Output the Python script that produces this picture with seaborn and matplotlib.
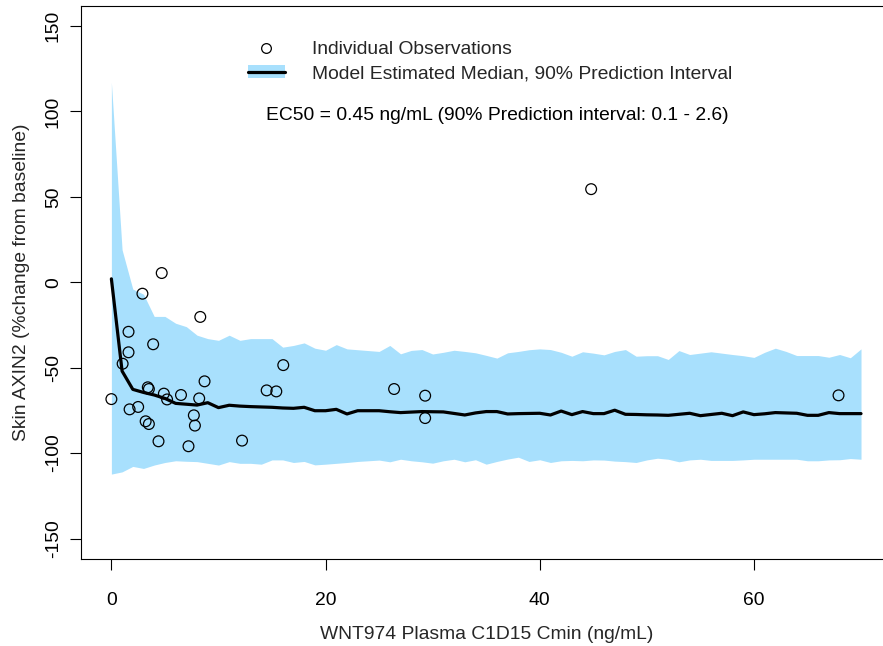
import numpy as np
import pandas as pd
import matplotlib
matplotlib.use("Agg")
import matplotlib.pyplot as plt
from matplotlib.lines import Line2D
from matplotlib.patches import Patch
import seaborn as sns

# ---- data ----
obs_conc = [0.0, 1.05, 1.6, 1.6, 1.7, 2.5, 2.9, 3.2, 3.4, 3.5, 3.5, 3.9, 4.4, 4.7,
            4.9, 5.2, 6.5, 7.2, 7.7, 7.8, 8.2, 8.3, 8.7, 12.2, 14.5, 15.4, 16.05,
            26.4, 29.3, 29.3, 44.8, 67.9]
obs_change = [-68.4, -47.7, -29.0, -41.0, -74.4, -73.0, -6.7, -81.4, -61.5, -62.5, -83.0,
              -36.3, -93.1, 5.4, -65.2, -68.6, -66.0, -96.0, -77.9, -83.9, -68.0, -20.3,
              -58.0, -92.7, -63.3, -63.9, -48.5, -62.5, -66.4, -79.5, 54.5, -66.2]

grid_conc = list(range(0, 71))
pred_median = [2, -52, -62.7, -64.5, -66, -68, -70.9, -71.4, -71.9, -70.5,
               -73.4, -72, -72.5, -72.8, -73, -73.2, -73.6, -73.8, -73.2, -75.2,
               -75.2, -74.4, -77.1, -75.2, -75.2, -75.2, -75.8, -76.3, -76, -75.7,
               -75.8, -75.9, -76.8, -77.7, -76.5, -75.7, -75.7, -77.1, -76.9, -76.8,
               -76.7, -77.7, -75.4, -77.5, -75.7, -76.9, -76.9, -74.9, -77.3, -77.4,
               -77.6, -77.7, -77.9, -77.3, -76.7, -78.1, -77.4, -76.7, -78.1, -75.9,
               -77.5, -77, -76.3, -76.5, -76.7, -77.9, -77.9, -76.3, -76.9, -76.9,
               -76.9]
pred_upper = [117, 19, -4, -7, -20, -20, -24, -26, -31, -33,
              -34, -31, -34, -33, -33, -33, -38, -37, -35.5, -38.6,
              -39.8, -36.5, -39, -39.5, -40, -40.5, -37, -41.9, -39.9, -39.4,
              -42, -41, -39.8, -40.5, -41.3, -42.8, -44.4, -41.3, -40.5, -39.5,
              -39, -39.4, -41, -43.3, -40.7, -41.5, -42.5, -40.5, -39.4, -43.3,
              -43, -43, -45.2, -40, -42.3, -41.5, -40.7, -41.5, -42.3, -43,
              -44, -41, -38.6, -40.5, -42.9, -42.9, -42.9, -43.9, -42.3, -44.2,
              -39]
pred_lower = [-112.3, -111, -107.8, -109, -107, -105.5, -104.5, -104.8, -105, -106,
              -107, -105, -106, -106, -106.5, -104, -104, -105.5, -104.9, -106.9,
              -106.5, -106, -105.5, -104.9, -104.5, -104.1, -105.1, -103.6, -104.5, -105.1,
              -105.9, -104.5, -103.6, -105.1, -103.9, -106.5, -104.9, -103.5, -102.4, -104.9,
              -103.9, -105.5, -104.5, -104.3, -104.5, -104, -104.1, -104.7, -105, -105.5,
              -104, -103, -103.6, -105.1, -104, -103.6, -104.3, -104.3, -104.3, -104,
              -103.6, -103.6, -103.6, -103.6, -103.6, -104.5, -104.5, -104, -103.9, -103.2,
              -103.6]

x_ticks = [0, 20, 40, 60]
y_ticks = [-150, -100, -50, 0, 50, 100, 150]

obs = pd.DataFrame({"conc": obs_conc, "change": obs_change})
pred = pd.DataFrame({"conc": grid_conc, "median": pred_median,
                     "lower": pred_lower, "upper": pred_upper})

# ---- style ----
sns.set_style("white")
plt.rcParams["font.family"] = ["Liberation Sans", "DejaVu Sans"]
FS = 13.9
band_color = "#A8E0FD"

W, H = 883, 646
fig = plt.figure(figsize=(W / 100, H / 100), dpi=100)
ax = fig.add_axes([81.4 / W, 1 - 559 / H, 809.6 / W, 553.5 / H])

ax.fill_between(pred["conc"], pred["lower"], pred["upper"], color=band_color,
                linewidth=0, zorder=1)
sns.lineplot(data=pred, x="conc", y="median", ax=ax, color="black", linewidth=2.3,
             zorder=3, estimator=None, sort=False)
sns.scatterplot(data=obs, x="conc", y="change", ax=ax, marker="o", s=60,
                facecolor="none", edgecolor="black", linewidth=0.9, zorder=4)

ax.set_xlim(-2.8, 72.8)
ax.set_ylim(-162, 162)
ax.set_xticks(x_ticks)
ax.set_yticks(y_ticks)
ax.set_xticklabels([str(v) for v in x_ticks])
ax.set_yticklabels([str(v) for v in y_ticks], rotation=90, va="center")
ax.tick_params(axis="both", direction="out", length=8, width=0.8, color="black",
               labelsize=FS, labelcolor="black", bottom=True, left=True)
ax.tick_params(axis="x", pad=16)
ax.tick_params(axis="y", pad=6)

for side in ["left", "top", "bottom", "right"]:
    ax.spines[side].set_visible(True)
    ax.spines[side].set_color("black")
    ax.spines[side].set_linewidth(0.8)

ax.set_xlabel("WNT974 Plasma C1D15 Cmin (ng/mL)", fontsize=FS, labelpad=12)
ax.set_ylabel("Skin AXIN2 (%change from baseline)", fontsize=FS, labelpad=11)

h_obs = Line2D([], [], marker="o", linestyle="none", markerfacecolor="none",
               markeredgecolor="black", markersize=7, markeredgewidth=0.9)
h_model = (Patch(facecolor=band_color, edgecolor="none"),
           Line2D([], [], color="black", linewidth=2.3))
leg = ax.legend([h_obs, h_model],
                ["Individual Observations",
                 "Model Estimated Median, 90% Prediction Interval"],
                loc="upper left", bbox_to_anchor=(0.2058, 0.936), frameon=False,
                fontsize=FS, handlelength=1.9, handleheight=0.7, handletextpad=1.4,
                labelspacing=0.33, borderpad=0, borderaxespad=0)

ax.text(36.0, 97.7, "EC50 = 0.45 ng/mL (90% Prediction interval: 0.1 - 2.6)",
        ha="center", va="center", fontsize=FS, color="black")

fig.savefig("out.png", dpi=100)
